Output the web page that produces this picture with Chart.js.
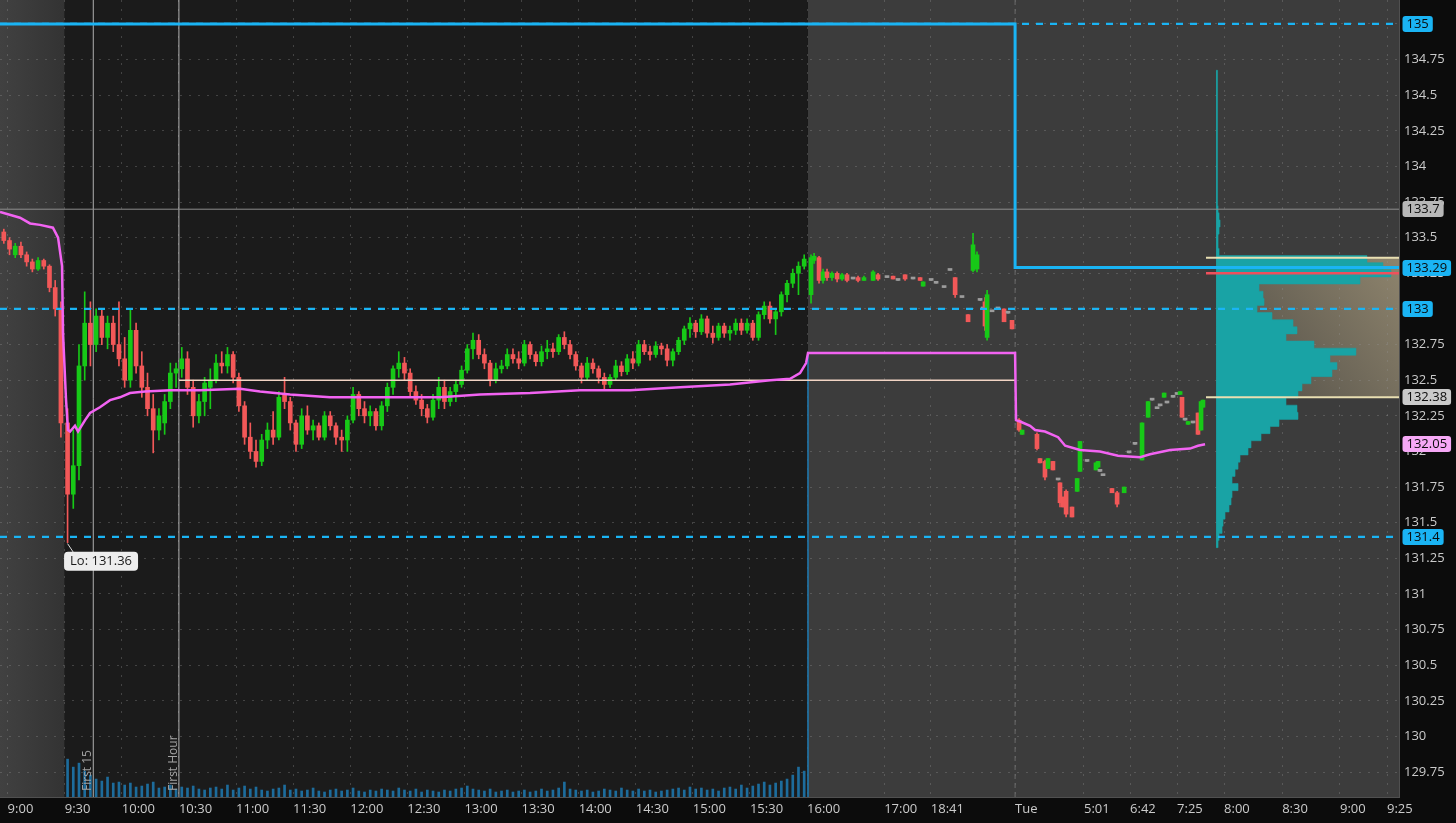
<!DOCTYPE html>
<html>
<head>
<meta charset="utf-8">
<script src="https://cdn.jsdelivr.net/npm/chart.js@4.4.1/dist/chart.umd.min.js"></script>
<style>
  html, body { margin: 0; padding: 0; background: #0c0c0c; overflow: hidden; }
  canvas { display: block; }
</style>
</head>
<body>
<canvas id="priceChart" width="1456" height="823"></canvas>
<script>
// chart clock: minutes from the left edge, after-hours is compressed like the platform does
const xMax = 735;
const yMin = 129.575, yMax = 135.168;

const xTickTimes = [4, 34, 64, 94, 124, 154, 184, 214, 244, 274, 304, 334, 364, 394, 424, 464.5, 489, 533.3, 569.5, 593.7, 618.4, 643.1, 673.6, 704, 728.7];
const xTickLabels = ['9:00', '9:30', '10:00', '10:30', '11:00', '11:30', '12:00', '12:30', '13:00', '13:30', '14:00', '14:30', '15:00', '15:30', '16:00', '17:00', '18:41', 'Tue', '5:01', '6:42', '7:25', '8:00', '8:30', '9:00', '9:25'];
const yTicks = [129.75, 130, 130.25, 130.5, 130.75, 131, 131.25, 131.5, 131.75, 132, 132.25, 132.5, 132.75, 133, 133.25, 133.5, 133.75, 134, 134.25, 134.5, 134.75, 135];

const sessionBreaks = [34, 424.5];   // 9:30 open, 16:00 close
const tueTime = 533.3;
const markerTimes = [49, 94];
const markerLabels = ['First 15', 'First Hour'];

// key levels
const levelLines = [135, 133, 131.4];
const keyLevelTimes = [0, tueTime, xMax];
const keyLevelValues = [135, 133.29, 133.29];
const priorClose = 133.7;
const firstHourHigh = 132.5;
const sessionLow = 131.36;
const sessionLowTime = 35.5;

// premarket bars [t, open, high, low, close]
const preBars = [
  [2, 133.54, 133.56, 133.46, 133.48], [5, 133.48, 133.5, 133.38, 133.42], [8, 133.38, 133.46, 133.36, 133.44],
  [11, 133.44, 133.47, 133.36, 133.38], [14, 133.38, 133.4, 133.3, 133.33], [17, 133.33, 133.35, 133.26, 133.28],
  [20, 133.28, 133.36, 133.27, 133.34], [23, 133.34, 133.35, 133.28, 133.3], [26, 133.3, 133.31, 133.12, 133.15],
  [29, 133.15, 133.2, 132.95, 133.0], [32, 133.0, 133.05, 132.1, 132.2]
];

// regular session 3-minute bars [open, high, low, close], first bar at rthStart
const rthStart = 35.5, rthStep = 3;
const rthBars = [
  [132.2,132.3,131.36,131.7],[131.7,132.15,131.6,131.9],[131.9,132.75,131.8,132.6],[132.6,133.12,132.5,132.9],
  [132.9,133.05,132.6,132.75],[132.75,133.0,132.7,132.95],[132.95,133.0,132.75,132.8],[132.8,132.95,132.72,132.9],
  [132.9,132.95,132.7,132.75],[132.75,133.05,132.6,132.65],[132.65,132.8,132.45,132.5],[132.5,133.0,132.45,132.85],
  [132.85,132.9,132.55,132.6],[132.6,132.7,132.38,132.45],[132.45,132.55,132.25,132.3],[132.3,132.4,131.99,132.15],
  [132.15,132.3,132.08,132.25],[132.2,132.4,132.12,132.35],[132.35,132.62,132.3,132.55],[132.55,132.62,132.45,132.58],
  [132.58,132.73,132.52,132.65],[132.65,132.7,132.4,132.45],[132.45,132.5,132.17,132.25],[132.25,132.4,132.2,132.35],
  [132.35,132.52,132.25,132.48],[132.45,132.58,132.3,132.5],[132.5,132.68,132.48,132.62],[132.62,132.7,132.55,132.6],
  [132.6,132.73,132.55,132.68],[132.68,132.7,132.48,132.52],[132.52,132.55,132.28,132.32],[132.32,132.35,132.05,132.1],
  [132.1,132.2,131.95,132.0],[132.0,132.08,131.89,131.93],[131.93,132.12,131.9,132.08],[132.08,132.2,132.02,132.15],
  [132.15,132.28,132.05,132.1],[132.1,132.42,132.08,132.38],[132.4,132.52,132.3,132.35],[132.35,132.38,132.15,132.2],
  [132.2,132.22,132.0,132.05],[132.05,132.3,132.02,132.25],[132.25,132.32,132.12,132.15],[132.15,132.22,132.08,132.18],
  [132.18,132.2,132.08,132.1],[132.1,132.28,132.08,132.25],[132.25,132.28,132.15,132.18],[132.18,132.2,132.05,132.1],
  [132.1,132.15,132.0,132.08],[132.08,132.25,132.0,132.22],[132.22,132.45,132.2,132.4],[132.4,132.42,132.25,132.3],
  [132.3,132.35,132.2,132.25],[132.25,132.32,132.18,132.28],[132.28,132.3,132.15,132.18],[132.18,132.35,132.15,132.32],
  [132.32,132.48,132.28,132.45],[132.45,132.6,132.4,132.58],[132.58,132.7,132.52,132.62],[132.62,132.66,132.5,132.55],
  [132.55,132.58,132.38,132.42],[132.42,132.46,132.33,132.36],[132.36,132.4,132.25,132.3],[132.3,132.33,132.2,132.24],
  [132.24,132.4,132.22,132.36],[132.36,132.52,132.3,132.45],[132.45,132.5,132.3,132.35],[132.35,132.45,132.32,132.42],
  [132.42,132.5,132.35,132.47],[132.47,132.6,132.45,132.57],[132.57,132.75,132.55,132.72],[132.72,132.83,132.65,132.78],
  [132.78,132.82,132.65,132.68],[132.68,132.72,132.58,132.62],[132.62,132.64,132.46,132.5],[132.5,132.62,132.48,132.58],
  [132.58,132.64,132.55,132.6],[132.6,132.72,132.58,132.68],[132.68,132.72,132.62,132.65],[132.65,132.7,132.58,132.62],
  [132.62,132.78,132.6,132.75],[132.75,132.77,132.65,132.68],[132.68,132.7,132.6,132.63],[132.63,132.74,132.6,132.7],
  [132.7,132.78,132.65,132.72],[132.72,132.76,132.66,132.7],[132.7,132.82,132.68,132.8],[132.8,132.84,132.72,132.75],
  [132.75,132.78,132.65,132.68],[132.68,132.7,132.57,132.6],[132.6,132.62,132.48,132.52],[132.52,132.66,132.5,132.62],
  [132.62,132.65,132.55,132.58],[132.58,132.6,132.48,132.52],[132.52,132.55,132.44,132.47],[132.47,132.54,132.45,132.52],
  [132.52,132.64,132.5,132.6],[132.6,132.63,132.53,132.56],[132.56,132.68,132.54,132.65],[132.65,132.7,132.58,132.62],
  [132.62,132.78,132.6,132.75],[132.75,132.78,132.68,132.7],[132.7,132.74,132.64,132.68],[132.68,132.77,132.66,132.74],
  [132.74,132.76,132.68,132.72],[132.72,132.75,132.6,132.64],[132.64,132.72,132.6,132.7],[132.7,132.8,132.68,132.78],
  [132.78,132.88,132.75,132.86],[132.86,132.94,132.8,132.9],[132.9,132.92,132.8,132.84],[132.84,132.96,132.82,132.93],
  [132.93,132.95,132.8,132.83],[132.83,132.88,132.76,132.8],[132.8,132.9,132.78,132.88],[132.88,132.9,132.8,132.83],
  [132.83,132.88,132.78,132.85],[132.85,132.93,132.82,132.9],[132.9,132.93,132.82,132.85],[132.85,132.93,132.83,132.9],
  [132.9,132.92,132.78,132.8],[132.8,132.98,132.78,132.96],[132.96,133.05,132.93,133.02],[133.02,133.05,132.9,132.93],
  [132.93,133.0,132.82,132.98],[132.98,133.12,132.95,133.1],[133.1,133.2,133.05,133.18],[133.18,133.28,133.15,133.25],
  [133.25,133.33,133.1,133.3],[133.3,133.38,133.28,133.35]
];
const rthVolume = [
  38,30,34,26,22,18,16,20,14,15, 12,14,10,11,13,15,9,10,12,8, 10,9,11,8,7,9,10,8,12,7,
  9,11,8,10,7,6,8,9,12,7, 8,6,7,9,6,5,7,8,6,7, 9,6,5,7,6,8,7,6,9,7,
  6,8,5,7,6,5,7,6,8,9, 11,8,7,6,8,5,6,7,5,6, 7,5,6,8,6,7,9,15,8,7,
  6,7,5,6,8,7,6,9,7,6, 8,6,7,5,6,7,8,9,7,10, 8,9,7,8,6,9,10,8,12,9,
  11,13,15,12,14,16,18,22,30,26
];
const closeAuction = [424.5, 445];

// after-hours and Tuesday premarket prints [t, open, high, low, close]
const ethBars = [
  [426.1,133.1,133.38,133.04,133.36],[427.7,133.34,133.39,133.32,133.37],[430.3,133.36,133.37,133.18,133.2],
  [432.4,133.2,133.28,133.18,133.26],[434.5,133.26,133.28,133.2,133.22],[437.1,133.22,133.26,133.2,133.25],
  [439.8,133.25,133.26,133.19,133.21],[442.4,133.21,133.25,133.2,133.24],[445,133.24,133.25,133.19,133.2],
  [448.2,133.21,133.21,133.21,133.21],[450.8,133.22,133.23,133.19,133.2],[453.9,133.2,133.23,133.2,133.22],
  [458.7,133.2,133.27,133.2,133.26],[461.3,133.24,133.25,133.2,133.21],[466,133.22,133.22,133.22,133.22],
  [469.2,133.23,133.23,133.21,133.21],[471.8,133.2,133.2,133.2,133.2],[475.5,133.24,133.24,133.2,133.21],
  [479.7,133.21,133.21,133.21,133.21],[483.4,133.22,133.22,133.2,133.2],[485,133.16,133.19,133.16,133.19],
  [489.2,133.2,133.2,133.2,133.2],[491.8,133.18,133.18,133.18,133.18],[496,133.15,133.15,133.15,133.15],
  [499.1,133.27,133.27,133.27,133.27],[501.8,133.22,133.22,133.08,133.1],[505.4,133.08,133.08,133.08,133.08],
  [508.6,132.96,132.96,132.91,132.91],[511.2,133.27,133.53,133.26,133.45],[513.3,133.28,133.4,133.26,133.38],
  [514.9,133.06,133.06,133.06,133.06],[516.5,133.0,133.0,133.0,133.0],[517.5,133.05,133.08,132.85,132.88],
  [518.6,132.8,133.13,132.78,133.1],[521.2,132.98,132.98,132.98,132.98],[524.3,133.0,133.0,133.0,133.0],
  [527.5,133.0,133.0,132.91,132.91],[529.6,132.97,132.97,132.97,132.97],[531.7,132.92,132.92,132.86,132.86],
  [535.4,132.22,132.23,132.14,132.15],[537,132.12,132.15,132.12,132.15],[544.8,132.12,132.13,132.01,132.02],
  [546.4,131.95,131.95,131.92,131.92],[549,131.93,131.94,131.8,131.82],[550.6,131.88,131.95,131.88,131.95],
  [553.2,131.93,131.93,131.87,131.87],[555.9,131.8,131.8,131.8,131.8],[556.9,131.78,131.78,131.61,131.64],
  [558.5,131.68,131.68,131.61,131.61],[560.1,131.72,131.73,131.54,131.56],[563.2,131.61,131.61,131.54,131.54],
  [565.9,131.72,131.81,131.72,131.81],[567.4,131.86,132.07,131.86,132.07],[571.1,131.93,131.93,131.93,131.93],
  [575.8,131.87,131.92,131.87,131.92],[576.9,131.89,131.93,131.89,131.93],[577.9,131.86,131.86,131.86,131.86],
  [579.5,131.83,131.83,131.83,131.83],[584.2,131.74,131.74,131.71,131.71],[586.9,131.71,131.72,131.61,131.63],
  [590.6,131.71,131.75,131.71,131.75],[593.2,131.99,131.99,131.99,131.99],[596.3,132.05,132.05,132.05,132.05],
  [600,131.94,132.2,131.94,132.2],[603.2,132.24,132.35,132.24,132.35],[605.3,132.36,132.36,132.36,132.36],
  [607.9,132.3,132.3,132.3,132.3],[609.5,132.32,132.32,132.32,132.32],[611.6,132.38,132.41,132.38,132.41],
  [613.1,132.34,132.34,132.34,132.34],[616.3,132.38,132.38,132.38,132.38],[618.4,132.4,132.4,132.4,132.4],
  [620,132.4,132.42,132.4,132.42],[621,132.38,132.38,132.24,132.24],[622.6,132.22,132.22,132.22,132.22],
  [624.2,132.19,132.21,132.19,132.21],[626.8,132.2,132.2,132.2,132.2],[629.4,132.27,132.27,132.12,132.12],
  [631,132.15,132.35,132.15,132.35],[632,132.31,132.36,132.31,132.36]
];

// vwap [t, value]
const vwapPoints = [
  [0,133.68],[10.5,133.64],[15.8,133.6],[21,133.59],[27.8,133.57],[30.5,133.5],[32.6,133.3],[33.1,132.83],
  [34.7,132.36],[35.7,132.15],[36.8,132.14],[39.4,132.18],[41,132.14],[44.7,132.22],[47.3,132.27],[52.5,132.31],
  [57.8,132.36],[63,132.38],[68.3,132.41],[76.2,132.42],[89.3,132.43],[105.1,132.43],[126.1,132.44],[136.6,132.42],
  [152.4,132.4],[173.4,132.38],[199.7,132.38],[215.4,132.38],[231.2,132.38],[252.2,132.4],[278.5,132.41],
  [304.7,132.43],[331,132.43],[357.3,132.45],[383.5,132.47],[404.6,132.5],[415.1,132.51],[420.3,132.55],
  [423.5,132.62],[424.5,132.69],[533.3,132.69],[533.8,132.22],[535.9,132.21],[541.2,132.18],[543.8,132.15],
  [549,132.14],[555.9,132.1],[559.6,132.04],[567.4,132.01],[577.9,132.0],[587.4,131.97],[599,131.96],
  [604.2,131.98],[614.7,132.01],[625.2,132.02],[629.4,132.04],[633.1,132.05]
];

// volume profile [price, volume]
const profileRows = [
  [134.65,1.5],[134.6,1.5],[134.55,1.5],[134.5,1.5],[134.45,1.5],[134.4,1.5],[134.35,1.5],[134.3,1.5],[134.25,1.5],
  [134.2,1.5],[134.15,1.5],[134.1,1.5],[134.05,1.5],[134.0,1.5],[133.95,1.5],[133.9,1.5],[133.85,1.5],[133.8,1.5],
  [133.75,1.5],[133.7,2],[133.65,3],[133.6,4],[133.55,3],[133.5,2],[133.45,2],[133.4,3],
  [133.35,151],[133.3,167],[133.25,175],[133.2,144],[133.15,43],[133.1,47],[133.05,48],[133.0,41],[132.95,56],
  [132.9,77],[132.85,81],[132.8,70],[132.75,98],[132.7,140],[132.65,114],[132.6,121],[132.55,116],[132.5,95],
  [132.45,86],[132.4,82],[132.35,70],[132.3,81],[132.25,82],[132.2,63],[132.15,54],[132.1,45],[132.05,35],
  [132.0,32],[131.95,24],[131.9,22],[131.85,19],[131.8,16],[131.75,22],[131.7,16],[131.65,15],[131.6,13],
  [131.55,9],[131.5,7],[131.45,6],[131.4,3],[131.35,2]
];
const profileBase = 638.9, profileUnit = 0.525, profileHalf = 0.025;
const vaHigh = 133.36, vaLow = 132.38, pocPrice = 133.25, profileLineStart = 633.6;

const UP = '#17c917', DOWN = '#f25858', FLAT = '#9c9c9c';
const CYAN = '#1ab4f4';

// ---- build datasets ----
const allBars = preBars.concat(
  rthBars.map((b, i) => [rthStart + i * rthStep].concat(b)),
  ethBars
);
const barColor = b => (b[4] > b[1] ? UP : (b[4] < b[1] ? DOWN : FLAT));
const wickData = allBars.map(b => ({ x: b[0], y: [b[3], b[2]] }));
const bodyData = allBars.map(b => ({ x: b[0], y: [Math.min(b[1], b[4]), Math.max(b[1], b[4])] }));
const candleColors = allBars.map(barColor);

const volumeData = rthVolume.map((v, i) => ({ x: rthStart + i * rthStep, y: v }));
const auctionData = [{ x: closeAuction[0], y: closeAuction[1] }];

const profileSorted = profileRows.slice().sort((a, b) => a[0] - b[0]);
const profileShape = [{ x: profileBase, y: profileSorted[0][0] - profileHalf }];
profileSorted.forEach(([p, v]) => {
  profileShape.push({ x: profileBase + v * profileUnit, y: p - profileHalf });
  profileShape.push({ x: profileBase + v * profileUnit, y: p + profileHalf });
});
profileShape.push({ x: profileBase, y: profileSorted[profileSorted.length - 1][0] + profileHalf });

const hLine = (v, from, to) => [{ x: from, y: v }, { x: to, y: v }];
const vLine = t => [{ x: t, y: yMin }, { x: t, y: yMax }];

const lineBase = { type: 'line', pointRadius: 0, tension: 0, fill: false };

const datasets = [
  Object.assign({}, lineBase, { label: 'level', data: keyLevelTimes.map((t, i) => ({ x: t, y: keyLevelValues[i] })),
    stepped: true, borderColor: CYAN, borderWidth: 3, order: 0 }),
  Object.assign({}, lineBase, { label: 'va high', data: hLine(vaHigh, profileLineStart, xMax), borderColor: '#e9dfb2', borderWidth: 2, order: 1 }),
  Object.assign({}, lineBase, { label: 'va low', data: hLine(vaLow, profileLineStart, xMax), borderColor: '#e9dfb2', borderWidth: 2, order: 1 }),
  Object.assign({}, lineBase, { label: 'poc', data: hLine(pocPrice, profileLineStart, xMax), borderColor: '#f0505c', borderWidth: 2.5, order: 1 }),
  Object.assign({}, lineBase, { label: 'vwap', data: vwapPoints.map(p => ({ x: p[0], y: p[1] })),
    borderColor: '#f263f2', borderWidth: 2.5, order: 2 }),
  ...levelLines.map(v => Object.assign({}, lineBase, { label: 'lvl ' + v, data: hLine(v, 0, xMax),
    borderColor: CYAN, borderWidth: 2.2, borderDash: [7, 7], order: 3 })),
  Object.assign({}, lineBase, { label: 'fh high', data: hLine(firstHourHigh, markerTimes[1], tueTime),
    borderColor: '#f2d4c4', borderWidth: 1.5, order: 4 }),
  Object.assign({}, lineBase, { label: 'prior', data: hLine(priorClose, 0, xMax), borderColor: '#8e8e8e', borderWidth: 1, order: 5 }),
  { type: 'bar', label: 'bodies', data: bodyData, backgroundColor: candleColors, barThickness: 4,
    minBarLength: 2, grouped: false, order: 6 },
  { type: 'bar', label: 'wicks', data: wickData, backgroundColor: candleColors, barThickness: 1,
    grouped: false, order: 7 },
  ...markerTimes.map(t => Object.assign({}, lineBase, { label: 'marker', data: vLine(t),
    borderColor: 'rgba(215,215,215,0.8)', borderWidth: 1, order: 8 })),
  Object.assign({}, lineBase, { label: 'tue', data: vLine(tueTime), borderColor: '#6c6c6c', borderWidth: 1,
    borderDash: [5, 4], order: 8 }),
  Object.assign({}, lineBase, { label: 'profile', data: profileShape, fill: 'shape',
    backgroundColor: '#19a3a5', borderColor: '#19a3a5', borderWidth: 0.5, order: 9 }),
  { type: 'bar', label: 'volume', data: volumeData, yAxisID: 'yVol', backgroundColor: '#1d6c9c',
    barThickness: 2, grouped: false, order: 10 },
  { type: 'bar', label: 'auction', data: auctionData, yAxisID: 'yVol', backgroundColor: '#1f74a8',
    barThickness: 1, grouped: false, order: 10 }
];

// ---- plugins ----
const backdrop = {
  id: 'backdrop',
  beforeDraw(chart) {
    const { ctx, chartArea: a, scales: { x, y } } = chart;
    ctx.save();
    ctx.fillStyle = '#0c0c0c';
    ctx.fillRect(0, 0, chart.width, chart.height);
    const open = x.getPixelForValue(sessionBreaks[0]);
    const close = x.getPixelForValue(sessionBreaks[1]);
    let g = ctx.createLinearGradient(a.left, 0, open, 0);
    g.addColorStop(0, '#414141');
    g.addColorStop(1, '#333333');
    ctx.fillStyle = g;
    ctx.fillRect(a.left, a.top, open - a.left, a.height);
    ctx.fillStyle = '#1b1b1b';
    ctx.fillRect(open, a.top, close - open, a.height);
    ctx.fillStyle = '#3c3c3c';
    ctx.fillRect(close, a.top, a.right - close, a.height);
    // value area
    const vx = x.getPixelForValue(profileBase);
    const vt = y.getPixelForValue(vaHigh), vb = y.getPixelForValue(vaLow);
    g = ctx.createLinearGradient(vx, vb, a.right, vt);
    g.addColorStop(0, '#4d4a44');
    g.addColorStop(1, '#8e846d');
    ctx.fillStyle = g;
    ctx.fillRect(vx, vt, a.right - vx, vb - vt);
    ctx.restore();
  }
};

function roundBox(ctx, x, y, w, h, r) {
  ctx.beginPath();
  if (ctx.roundRect) ctx.roundRect(x, y, w, h, r);
  else ctx.rect(x, y, w, h);
  ctx.fill();
}

const notes = {
  id: 'notes',
  afterDatasetsDraw(chart) {
    const { ctx, chartArea: a, scales: { x, y } } = chart;
    ctx.save();
    // rotated marker labels
    ctx.font = '12px "Open Sans", sans-serif';
    ctx.fillStyle = '#a4a4a4';
    ctx.textAlign = 'left';
    ctx.textBaseline = 'alphabetic';
    markerTimes.forEach((t, i) => {
      ctx.save();
      ctx.translate(x.getPixelForValue(t) - 2, a.bottom - 6);
      ctx.rotate(-Math.PI / 2);
      ctx.fillText(markerLabels[i], 0, 0);
      ctx.restore();
    });
    // session low tag
    const lx = x.getPixelForValue(sessionLowTime), ly = y.getPixelForValue(sessionLow);
    ctx.strokeStyle = '#dcdcdc';
    ctx.lineWidth = 1;
    ctx.beginPath();
    ctx.moveTo(lx, ly + 1);
    ctx.lineTo(lx + 6, ly + 10);
    ctx.stroke();
    const txt = 'Lo: ' + sessionLow;
    ctx.font = '13px "Open Sans", sans-serif';
    const w = ctx.measureText(txt).width + 12;
    ctx.fillStyle = '#ededed';
    roundBox(ctx, lx - 3.5, ly + 9, w, 19, 4);
    ctx.fillStyle = '#1a1a1a';
    ctx.textBaseline = 'middle';
    ctx.fillText(txt, lx + 2.5, ly + 19);
    ctx.restore();
  },
  afterDraw(chart) {
    const { ctx, chartArea: a, scales: { y } } = chart;
    const tags = levelLines.map(v => [v, CYAN]).concat([
      [priorClose, '#b8b8b8'],
      [keyLevelValues[keyLevelValues.length - 1], CYAN],
      [vaLow, '#cacaca'],
      [vwapPoints[vwapPoints.length - 1][1], '#f6a8f6']
    ]);
    ctx.save();
    ctx.font = '13px "Open Sans", sans-serif';
    ctx.textBaseline = 'middle';
    ctx.textAlign = 'left';
    tags.forEach(([v, col]) => {
      const py = Math.round(y.getPixelForValue(v));
      const label = String(v);
      const w = ctx.measureText(label).width + 8;
      ctx.fillStyle = col;
      roundBox(ctx, a.right + 3.5, py - 8, w, 16, 3);
      ctx.fillStyle = '#0b0b0b';
      ctx.fillText(label, a.right + 7.5, py + 0.5);
    });
    ctx.restore();
  }
};

Chart.defaults.font.family = '"Open Sans", sans-serif';
Chart.defaults.font.size = 13;

new Chart(document.getElementById('priceChart'), {
  type: 'line',
  data: { datasets },
  options: {
    responsive: false,
    animation: false,
    devicePixelRatio: 1,
    events: [],
    layout: { padding: 0 },
    plugins: { legend: { display: false }, tooltip: { enabled: false } },
    scales: {
      x: {
        type: 'linear',
        min: 0,
        max: xMax,
        offset: false,
        grid: { color: 'rgba(150,150,150,0.33)', drawTicks: false, offset: false },
        border: { display: true, color: '#505050', dash: [2, 7] },
        afterBuildTicks: s => { s.ticks = xTickTimes.map(v => ({ value: v })); },
        afterFit: s => { s.height = 26; s.paddingLeft = 0; s.paddingRight = 0; },
        ticks: {
          color: '#cbcbcb',
          align: 'start',
          padding: 4,
          maxRotation: 0,
          autoSkip: false,
          callback: (v, i) => xTickLabels[i]
        }
      },
      y: {
        type: 'linear',
        position: 'right',
        min: yMin,
        max: yMax,
        grid: { color: 'rgba(150,150,150,0.33)', drawTicks: false },
        border: { display: true, color: '#505050', dash: [2, 7] },
        afterBuildTicks: s => { s.ticks = yTicks.map(v => ({ value: v })); },
        afterFit: s => { s.width = 57; s.paddingTop = 0; s.paddingBottom = 0; },
        ticks: { color: '#cbcbcb', padding: 5, callback: v => String(v) }
      },
      yVol: {
        type: 'linear',
        display: false,
        min: 0,
        max: 800
      }
    }
  },
  plugins: [backdrop, notes]
});
</script>
</body>
</html>
